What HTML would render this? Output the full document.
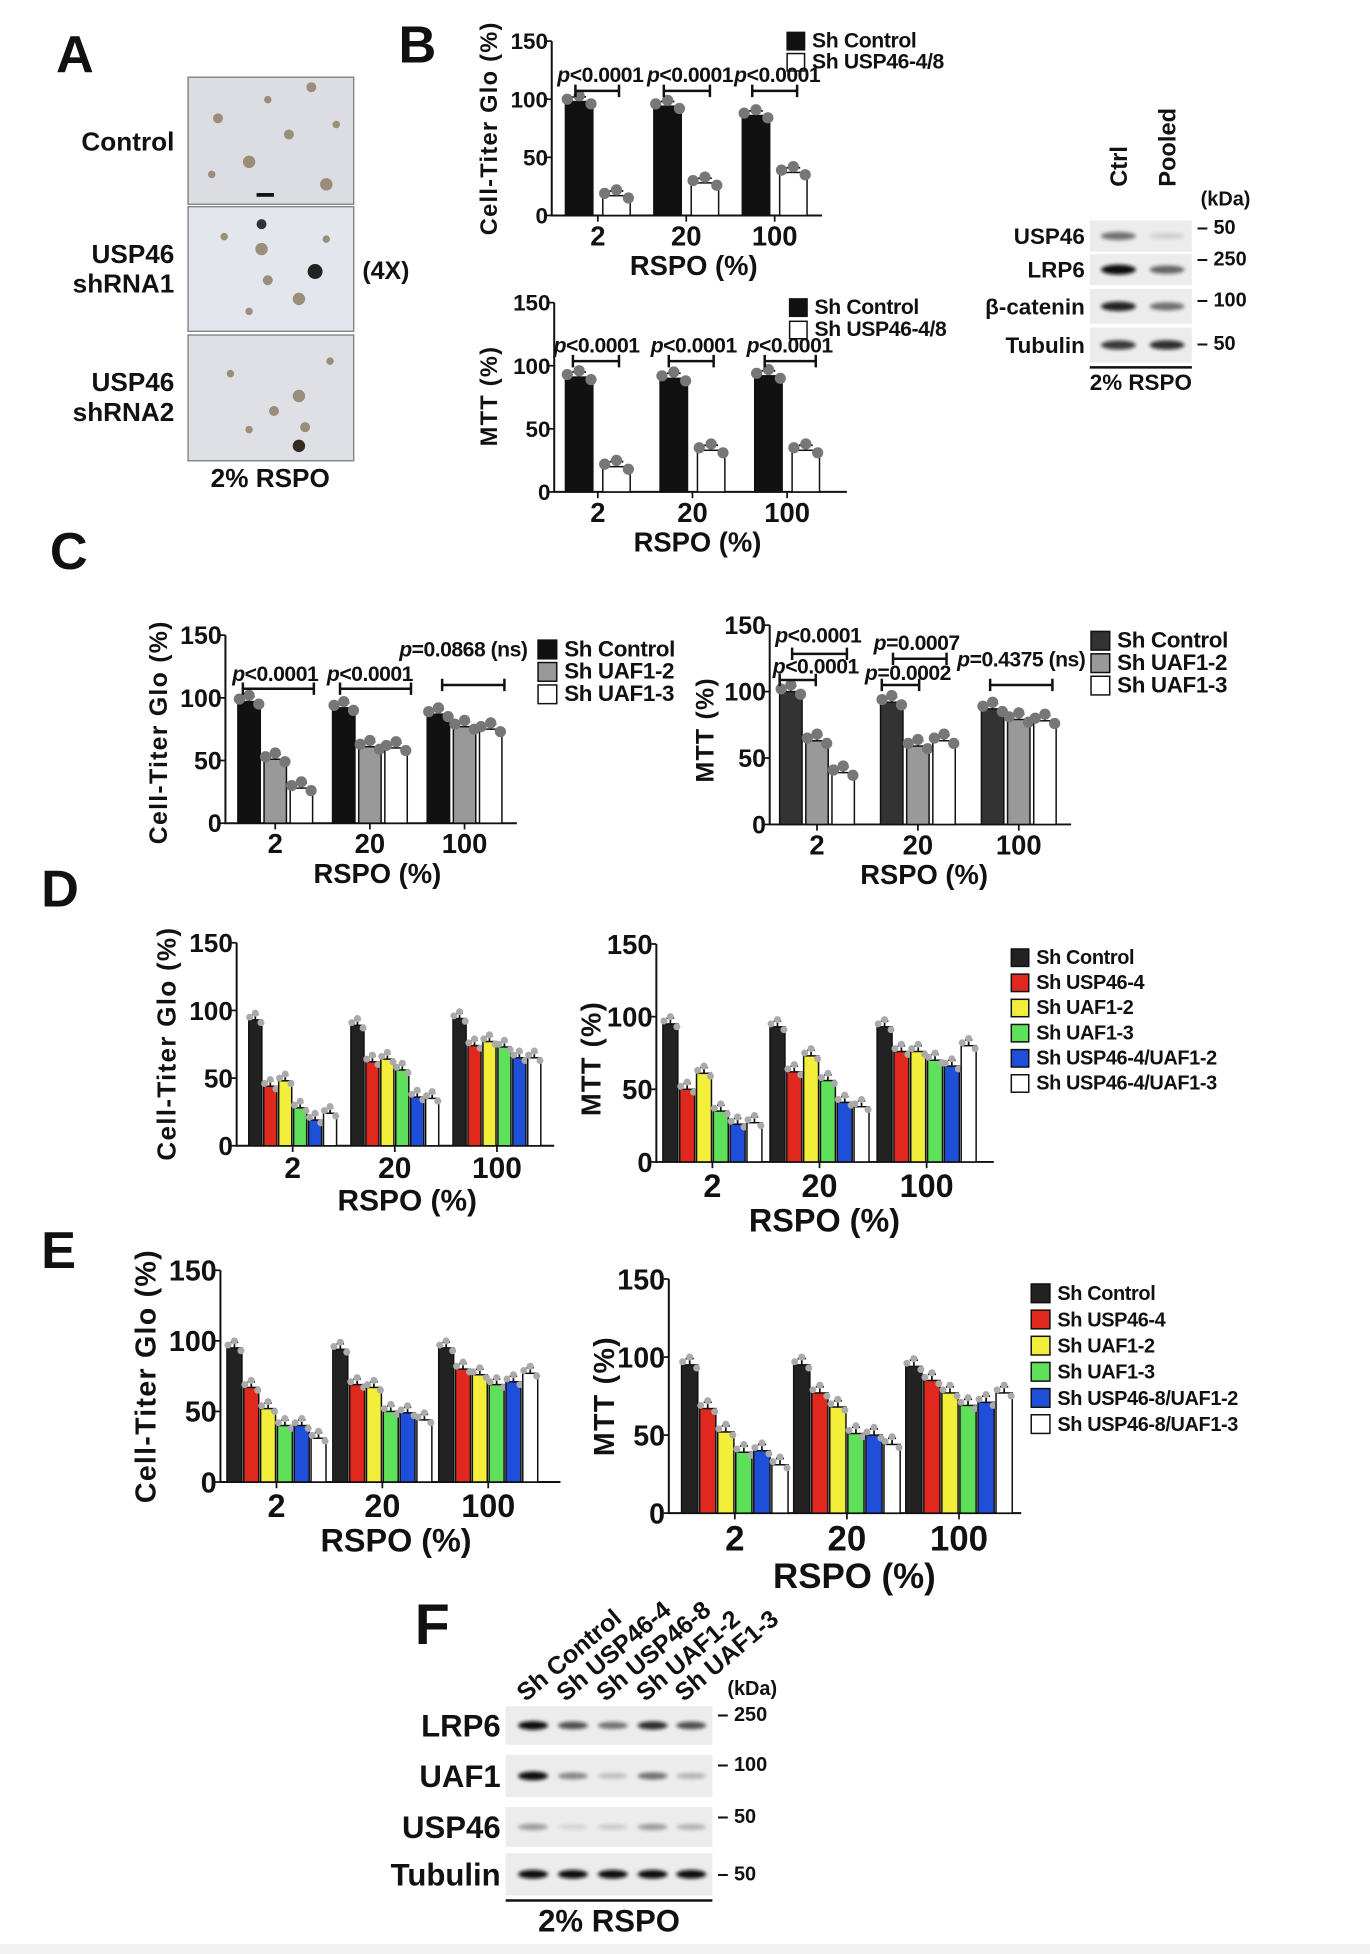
<!DOCTYPE html>
<html><head><meta charset="utf-8">
<style>
html,body{margin:0;padding:0;background:#fff;}
svg{display:block;}
text{font-family:"Liberation Sans Narrow","Liberation Sans",sans-serif;font-weight:bold;fill:#111;}
.w{font-family:"Liberation Sans",sans-serif;}
</style></head>
<body>
<svg id="fig" xmlns="http://www.w3.org/2000/svg" width="1370" height="1954" viewBox="0 0 1100 1569" preserveAspectRatio="none">
<defs>
<filter id="blur" x="-20%" y="-50%" width="140%" height="200%"><feGaussianBlur stdDeviation="1.6"/></filter>
</defs>
<rect x="0" y="1561" width="1100" height="8" fill="#f2f2f2"/>
<!-- Panel labels -->
<text class="w" x="45" y="58" font-size="42">A</text>
<text class="w" x="320" y="50" font-size="42">B</text>
<text class="w" x="40" y="457" font-size="42">C</text>
<text class="w" x="33" y="728" font-size="42">D</text>
<text class="w" x="33" y="1018" font-size="42">E</text>
<text class="w" x="333" y="1320" font-size="46">F</text>
<!-- Panel A -->
<g>
<rect x="151" y="62" width="133" height="102" fill="#dcdde2" stroke="#777"/>
<rect x="151" y="166" width="133" height="100" fill="#e4e6ee" stroke="#777"/>
<rect x="151" y="269" width="133" height="101" fill="#dfe0e6" stroke="#777"/>
<g fill="#8a7a60" opacity="0.8">
<circle cx="175" cy="95" r="4"/><circle cx="200" cy="130" r="5"/><circle cx="215" cy="80" r="3"/><circle cx="232" cy="108" r="4"/><circle cx="262" cy="148" r="5"/><circle cx="170" cy="140" r="3"/><circle cx="250" cy="70" r="4"/><circle cx="270" cy="100" r="3"/>
<circle cx="210" cy="200" r="5"/><circle cx="215" cy="225" r="4"/><circle cx="240" cy="240" r="5"/><circle cx="180" cy="190" r="3"/><circle cx="262" cy="192" r="3"/><circle cx="200" cy="250" r="3"/>
<circle cx="185" cy="300" r="3"/><circle cx="220" cy="330" r="4"/><circle cx="245" cy="343" r="4"/><circle cx="240" cy="318" r="5"/><circle cx="200" cy="345" r="3"/><circle cx="265" cy="290" r="3"/>
</g>
<circle cx="253" cy="218" r="6" fill="#222"/><circle cx="240" cy="358" r="5" fill="#332a20"/><circle cx="210" cy="180" r="4" fill="#333"/>
<rect x="206" y="155" width="14" height="3" fill="#111"/>
</g>
<text class="w" x="140" y="121" font-size="21" text-anchor="end">Control</text>
<text class="w" x="140" y="211" font-size="21" text-anchor="end"><tspan x="140">USP46</tspan><tspan x="140" dy="24">shRNA1</tspan></text>
<text class="w" x="140" y="314" font-size="21" text-anchor="end"><tspan x="140">USP46</tspan><tspan x="140" dy="24">shRNA2</tspan></text>
<text class="w" x="291" y="224" font-size="20">(4X)</text>
<text class="w" x="217" y="391" font-size="21" text-anchor="middle">2% RSPO</text>
<g id="blots"></g>
<g id="charts"></g>
</svg>
<script>
// ---------- DATA ----------
const rspoCategories = ["2", "20", "100"];
const yTicks = [0, 50, 100, 150];
const bSeriesNames = ["Sh Control", "Sh USP46-4/8"];
const bCtgControl = [98, 94, 86];
const bCtgShUsp46 = [17, 28, 37];
const bMttControl = [91, 90, 92];
const bMttShUsp46 = [20, 33, 33];
const cSeriesNames = ["Sh Control", "Sh UAF1-2", "Sh UAF1-3"];
const cCtgControl = [97, 92, 87];
const cCtgUaf12 = [51, 61, 77];
const cCtgUaf13 = [28, 60, 75];
const cMttControl = [100, 92, 87];
const cMttUaf12 = [63, 59, 79];
const cMttUaf13 = [39, 63, 78];
const dSeriesNames = ["Sh Control", "Sh USP46-4", "Sh UAF1-2", "Sh UAF1-3", "Sh USP46-4/UAF1-2", "Sh USP46-4/UAF1-3"];
const dCtgControl = [93, 89, 94];
const dCtgUsp464 = [44, 62, 74];
const dCtgUaf12 = [48, 64, 77];
const dCtgUaf13 = [28, 56, 73];
const dCtgCombo2 = [19, 36, 65];
const dCtgCombo3 = [24, 35, 65];
const dMttControl = [95, 93, 93];
const dMttUsp464 = [50, 62, 76];
const dMttUaf12 = [61, 73, 76];
const dMttUaf13 = [35, 56, 70];
const dMttCombo2 = [26, 41, 66];
const dMttCombo3 = [27, 38, 80];
const eSeriesNames = ["Sh Control", "Sh USP46-4", "Sh UAF1-2", "Sh UAF1-3", "Sh USP46-8/UAF1-2", "Sh USP46-8/UAF1-3"];
const eCtgControl = [95, 94, 95];
const eCtgUsp464 = [67, 69, 80];
const eCtgUaf12 = [52, 67, 76];
const eCtgUaf13 = [40, 50, 69];
const eCtgCombo2 = [40, 49, 71];
const eCtgCombo3 = [31, 44, 77];
const eMttControl = [95, 95, 94];
const eMttUsp464 = [67, 77, 85];
const eMttUaf12 = [52, 68, 77];
const eMttUaf13 = [39, 51, 69];
const eMttCombo2 = [40, 50, 71];
const eMttCombo3 = [31, 44, 77];
const fLanes = ["Sh Control", "Sh USP46-4", "Sh USP46-8", "Sh UAF1-2", "Sh UAF1-3"];
const fLrp6 = [1.0, 0.7, 0.55, 0.85, 0.7];
const fUaf1 = [1.0, 0.45, 0.2, 0.55, 0.25];
const fUsp46 = [0.35, 0.1, 0.15, 0.35, 0.25];
const fTubulin = [1.0, 1.0, 1.0, 1.0, 1.0];
const bBlotLanes = ["Ctrl", "Pooled"];
const bUsp46 = [0.55, 0.12];
const bLrp6 = [1.0, 0.6];
const bCatenin = [0.9, 0.55];
const bTubulin = [0.8, 0.85];

// ---------- HELPERS ----------
const NS = "http://www.w3.org/2000/svg";
const chartsG = document.getElementById("charts");
const blotsG = document.getElementById("blots");
function mk(tag, attrs, parent, txt) {
  const e = document.createElementNS(NS, tag);
  for (const k in attrs) e.setAttribute(k, attrs[k]);
  if (txt !== undefined) e.textContent = txt;
  parent.appendChild(e);
  return e;
}
const COL6 = ["#222", "#e0281e", "#f2ee3a", "#5ee05a", "#1f4fd8", "#fff"];

function chart(o) {
  const g = mk("g", {}, chartsG);
  
  
  const yS = v => o.y0 - v / 150 * (o.y0 - o.y150);
  const cx = i => o.first + i * o.step;
  const ax = mk("path", {d: `M${o.ax},${o.y150}V${o.y0}H${o.xEnd}`, stroke: "#111", "stroke-width": 1.6, fill: "none"}, g);
  
  
  yTicks.forEach(t => {
    mk("line", {x1: o.ax - 4, x2: o.ax, y1: yS(t), y2: yS(t), stroke: "#111", "stroke-width": 1.4}, g);
    const tl = mk("text", {x: o.ax - 3, y: yS(t) + o.tf * 0.36, "font-size": o.tf, "text-anchor": "end"}, g, String(t));
    
    
  });
  rspoCategories.forEach((c, i) => {
    mk("line", {x1: cx(i), x2: cx(i), y1: o.y0, y2: o.y0 + 5, stroke: "#111", "stroke-width": 1.4}, g);
    const cl = mk("text", {x: cx(i), y: o.y0 + o.cf + 2, "font-size": o.cf, "text-anchor": "middle"}, g, c);
    
    
  });
  const xt = mk("text", {x: o.xtX, y: o.y0 + o.cf * 2 + 4, "font-size": o.cf, "text-anchor": "middle"}, g, "RSPO (%)");
  
  
  const yt = mk("text", {class: "w", x: 0, y: 0, "font-size": o.ytf, "text-anchor": "middle", "letter-spacing": o.yls || 1, transform: `translate(${o.ytX},${o.ytY}) rotate(-90)`}, g, o.ytitle);
  
  
  const n = o.series.length;
  const gw = n * o.barW + (n - 1) * o.gap;
  o.series.forEach((s, si) => {
    s.forEach((v, i) => {
      const x = cx(i) - gw / 2 + si * (o.barW + o.gap);
      const r = mk("rect", {x: x, y: yS(v), width: o.barW, height: o.y0 - yS(v), fill: o.colors[si], stroke: "#111", "stroke-width": 1.2}, g);
      
      
      const m = x + o.barW / 2;
      mk("path", {d: `M${m},${yS(v)}V${yS(v + 4)}M${m - o.barW / 4},${yS(v + 4)}H${m + o.barW / 4}`, stroke: "#111", "stroke-width": 1.4, fill: "none"}, g);
      const dr = o.dotR;
      [[-o.barW / 3, 2], [0, 5], [o.barW / 3, -2]].forEach(d => {
        const c = mk("circle", {cx: m + d[0] * 1.3, cy: yS(v + d[1]), r: dr, fill: o.dotC || "#888"}, g);
        
        
      });
    });
  });
  // legend
  o.names.forEach((nm, si) => {
    const ly = o.legY + si * o.legDy;
    const sq = mk("rect", {x: o.legX, y: ly - o.legS + 2, width: o.legS, height: o.legS, fill: o.colors[si], stroke: "#111", "stroke-width": 1.2}, g);
    
    
    const lt = mk("text", {x: o.legX + o.legS + 6, y: ly, "font-size": o.lf, "letter-spacing": -0.3}, g, nm);
    
    
  });
  (o.pvals || []).forEach(p => {
    const pt = mk("text", {x: p[0], y: p[1], "font-size": 17, "text-anchor": "middle", "letter-spacing": -0.4}, g);
    
    
    mk("tspan", {"font-style": "italic"}, pt, "p");
    mk("tspan", {}, pt, p[2]);
    const br = mk("path", {d: `M${p[3]},${p[5] - 5}V${p[5] + 5}M${p[3]},${p[5]}H${p[4]}M${p[4]},${p[5] - 5}V${p[5] + 5}`, stroke: "#111", "stroke-width": 2, fill: "none"}, g);
    
    
  });
}

// B charts
chart({name: "chart-b-cell-titer-glo", ax: 443, y0: 173, y150: 33, xEnd: 660, first: 480, step: 71, barW: 22, gap: 8,
  series: [bCtgControl, bCtgShUsp46], names: bSeriesNames, colors: ["#111", "#fff"], tf: 18, cf: 22, xtX: 557,
  ytitle: "Cell-Titer Glo (%)", ytf: 19, ytX: 399, ytY: 103, dotR: 4.5, dotC: "#777",
  legX: 632, legY: 38, legDy: 17, legS: 14, lf: 17,
  pvals: [[482, 66, "<0.0001", 462, 497, 73], [554, 66, "<0.0001", 533, 570, 73], [624, 66, "<0.0001", 604, 640, 73]]});
chart({name: "chart-b-mtt", ax: 445, y0: 395, y150: 243, xEnd: 680, first: 480, step: 76, barW: 22, gap: 8,
  series: [bMttControl, bMttShUsp46], names: bSeriesNames, colors: ["#111", "#fff"], tf: 18, cf: 22, xtX: 560,
  ytitle: "MTT (%)", ytf: 19, ytX: 399, ytY: 318, dotR: 4.5, dotC: "#777",
  legX: 634, legY: 252, legDy: 18, legS: 14, lf: 17,
  pvals: [[479, 283, "<0.0001", 460, 497, 290], [557, 283, "<0.0001", 537, 573, 290], [634, 283, "<0.0001", 614, 655, 290]]});
// C charts
chart({name: "chart-c-cell-titer-glo", ax: 181, y0: 661, y150: 510, xEnd: 415, first: 221, step: 76, barW: 18, gap: 3,
  series: [cCtgControl, cCtgUaf12, cCtgUaf13], names: cSeriesNames, colors: ["#111", "#999", "#fff"], tf: 20, cf: 22, xtX: 303,
  ytitle: "Cell-Titer Glo (%)", ytf: 20, ytX: 134, ytY: 588, dotR: 4.5, dotC: "#777",
  legX: 432, legY: 527, legDy: 18, legS: 15, lf: 18,
  pvals: [[221, 547, "<0.0001", 195, 252, 553], [297, 547, "<0.0001", 273, 330, 553], [372, 527, "=0.0868 (ns)", 355, 405, 550]]});
chart({name: "chart-c-mtt", ax: 618, y0: 662, y150: 502, xEnd: 860, first: 656, step: 81, barW: 18, gap: 3,
  series: [cMttControl, cMttUaf12, cMttUaf13], names: cSeriesNames, colors: ["#333", "#999", "#fff"], tf: 20, cf: 22, xtX: 742,
  ytitle: "MTT (%)", ytf: 20, ytX: 573, ytY: 586, dotR: 4.5, dotC: "#777",
  legX: 876, legY: 520, legDy: 18, legS: 15, lf: 18,
  pvals: [[657, 516, "<0.0001", 636, 680, 525], [655, 541, "<0.0001", 626, 655, 546], [736, 522, "=0.0007", 717, 760, 529], [729, 546, "=0.0002", 708, 738, 550], [820, 535, "=0.4375 (ns)", 795, 845, 550]]});
// D charts
chart({name: "chart-d-cell-titer-glo", ax: 190, y0: 920, y150: 757, xEnd: 445, first: 235, step: 82, barW: 10.5, gap: 1.5,
  series: [dCtgControl, dCtgUsp464, dCtgUaf12, dCtgUaf13, dCtgCombo2, dCtgCombo3], names: dSeriesNames, colors: COL6, tf: 21, cf: 24, xtX: 327,
  ytitle: "Cell-Titer Glo (%)", ytf: 21, ytX: 141, ytY: 838, dotR: 2.8, dotC: "#aaa",
  legX: 0, legY: -100, legDy: 0, legS: 0, lf: 0});
chart({name: "chart-d-mtt", ax: 527, y0: 933, y150: 758, xEnd: 798, first: 572, step: 86, barW: 12, gap: 1.5,
  series: [dMttControl, dMttUsp464, dMttUaf12, dMttUaf13, dMttCombo2, dMttCombo3], names: dSeriesNames, colors: COL6, tf: 22, cf: 26, xtX: 662,
  ytitle: "MTT (%)", ytf: 22, ytX: 482, ytY: 850, dotR: 2.8, dotC: "#aaa",
  legX: 812, legY: 774, legDy: 20.2, legS: 14, lf: 16});
// E charts
chart({name: "chart-e-cell-titer-glo", ax: 177, y0: 1190, y150: 1020, xEnd: 450, first: 222, step: 85, barW: 12, gap: 1.5,
  series: [eCtgControl, eCtgUsp464, eCtgUaf12, eCtgUaf13, eCtgCombo2, eCtgCombo3], names: eSeriesNames, colors: COL6, tf: 23, cf: 26, xtX: 318,
  ytitle: "Cell-Titer Glo (%)", ytf: 23, ytX: 125, ytY: 1105, dotR: 2.8, dotC: "#aaa",
  legX: 0, legY: -100, legDy: 0, legS: 0, lf: 0});
chart({name: "chart-e-mtt", ax: 537, y0: 1215, y150: 1027, xEnd: 820, first: 590, step: 90, barW: 13, gap: 1.5,
  series: [eMttControl, eMttUsp464, eMttUaf12, eMttUaf13, eMttCombo2, eMttCombo3], names: eSeriesNames, colors: COL6, tf: 23, cf: 28, xtX: 686,
  ytitle: "MTT (%)", ytf: 23, ytX: 493, ytY: 1121, dotR: 2.8, dotC: "#aaa",
  legX: 828, legY: 1044, legDy: 21, legS: 15, lf: 16});

// ---------- BLOTS ----------
function blot(o) {
  const g = mk("g", {}, blotsG);
  
  
  o.rows.forEach((row, ri) => {
    const [label, y1, y2, vals, kda] = row;
    const bg = mk("rect", {x: o.x1, y: y1, width: o.x2 - o.x1, height: y2 - y1, fill: "#ececec"}, g);
    
    
    vals.forEach((v, li) => {
      const b = mk("ellipse", {cx: o.lanes[li], cy: (y1 + y2) / 2, rx: o.bw, ry: o.bh * (0.6 + 0.4 * v), fill: "#111", opacity: v, filter: "url(#blur)"}, g);
      
      
    });
    const t = mk("text", {class: "w", x: o.x1 - 4, y: (y1 + y2) / 2 + o.lf * 0.36, "font-size": o.lf, "text-anchor": "end"}, g, label);
    
    
    if (kda) {
      const k = mk("text", {class: "w", x: o.x2 + 4, y: kda[1], "font-size": o.kf}, g, "– " + kda[0]);
      
      
    }
  });
  o.laneNames.forEach((ln, li) => {
    const t = mk("text", {class: "w", x: 0, y: 0, "font-size": o.lnf, transform: `translate(${o.lanes[li] + o.lnDx},${o.lnY}) rotate(${o.lnRot})`}, g, ln);
    
    
  });
  mk("line", {x1: o.x1, x2: o.x2, y1: o.lineY, y2: o.lineY, stroke: "#111", "stroke-width": 2}, g);
  const c = mk("text", {class: "w", x: (o.x1 + o.x2) / 2, y: o.lineY + o.lf, "font-size": o.lf, "text-anchor": "middle"}, g, "2% RSPO");
  
  
  const kd = mk("text", {class: "w", x: o.kdX, y: o.kdY, "font-size": o.kf}, g, "(kDa)");
  
  
}
blot({name: "blot-b", x1: 875, x2: 957, lanes: [898, 937], bw: 14, bh: 4, lf: 18, kf: 16, lnf: 19,
  rows: [["USP46", 177, 202, bUsp46, ["50", 188]], ["LRP6", 204, 229, bLrp6, ["250", 213]], ["β-catenin", 232, 260, bCatenin, ["100", 246]], ["Tubulin", 263, 291, bTubulin, ["50", 281]]],
  laneNames: bBlotLanes, lnDx: 7, lnY: 150, lnRot: -90, lineY: 295, kdX: 964, kdY: 165});
blot({name: "blot-f", x1: 406, x2: 572, lanes: [428, 460, 492, 524, 555], bw: 12, bh: 3.5, lf: 25, kf: 16, lnf: 20,
  rows: [["LRP6", 1370, 1401, fLrp6, ["250", 1382]], ["UAF1", 1409, 1443, fUaf1, ["100", 1422]], ["USP46", 1451, 1483, fUsp46, ["50", 1464]], ["Tubulin", 1488, 1522, fTubulin, ["50", 1510]]],
  laneNames: fLanes, lnDx: -6, lnY: 1367, lnRot: -40, lineY: 1526, kdX: 584, kdY: 1361});
</script>
</body></html>
